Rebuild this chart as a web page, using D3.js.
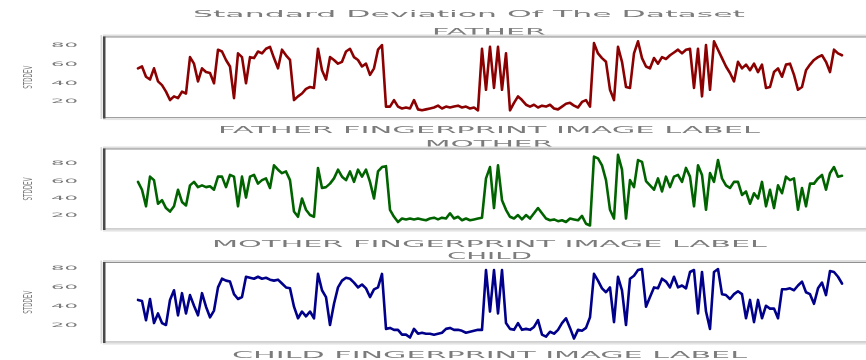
<!DOCTYPE html>
<html><head><meta charset="utf-8">
<script src="https://cdn.jsdelivr.net/npm/d3@7"></script>
<style>body{margin:0;background:#fff}svg{display:block}</style>
</head><body><svg id="c" width="866" height="360"></svg>
<script>
// ---- data ----
const chartTitle = "Standard Deviation Of The Dataset";
const panelNames = ["FATHER", "MOTHER", "CHILD"];
const xAxisLabels = ["FATHER FINGERPRINT IMAGE LABEL", "MOTHER FINGERPRINT IMAGE LABEL", "CHILD FINGERPRINT IMAGE LABEL"];
const yAxisLabel = "STDDEV";
const yTickValues = [20, 40, 60, 80];

const fatherValues = [
55,57,46,43,55,41,37,30,21,25,
23,30,28,67,60,41,55,51,50,39,
75,73,64,57,23,71,67,39,67,66,
73,71,76,78,66,55,75,69,64,21,
25,28,33,35,34,76,53,43,67,64,
60,62,73,76,67,64,57,60,48,55,
75,80,14,14,21,14,12,13,12,21,
11,10,11,12,13,15,12,14,13,14,
15,13,14,12,13,10,76,32,78,34,
78,32,71,10,18,25,21,16,14,16,
13,15,14,16,12,11,14,17,18,15,
13,19,21,14,82,71,66,62,32,21,
78,62,35,34,71,84,66,57,55,66,
60,67,65,69,72,75,71,75,76,34,
76,25,80,32,84,75,66,57,50,41,
62,55,59,53,60,51,59,34,35,51,
55,46,59,60,48,32,35,53,59,64,
67,69,62,51,75,71,69];

const motherValues = [
58,49,30,64,60,33,37,28,24,30,
49,35,31,54,58,52,54,52,53,49,
64,64,52,66,64,30,64,40,64,66,
56,60,62,51,77,72,68,70,60,24,
18,39,26,20,18,74,51,52,56,62,
72,64,60,70,58,72,64,72,58,39,
70,75,76,26,18,12,16,15,16,15,
16,15,14,16,17,15,17,16,22,16,
18,14,16,14,15,16,17,62,75,28,
77,37,26,18,16,20,15,20,16,22,
28,22,16,14,15,13,14,12,16,15,
14,19,10,8,87,85,77,60,26,16,
89,72,16,60,52,83,81,59,54,49,
62,47,64,52,64,66,58,74,64,30,
77,66,26,68,58,83,62,54,51,58,
58,43,47,33,45,39,58,30,49,28,
54,45,64,60,62,26,51,30,56,56,
62,66,49,68,75,64,65];

const childValues = [
46,45,25,47,22,32,22,20,46,56,
30,53,32,51,40,30,53,39,28,35,
59,68,66,65,52,47,49,70,69,68,
70,68,69,67,66,67,63,59,58,39,
27,34,29,34,27,73,56,49,20,42,
59,66,69,68,64,59,62,58,49,57,
59,73,16,17,15,15,10,10,7,16,
11,12,11,11,10,11,12,16,17,15,
15,14,12,13,14,15,15,77,34,77,
32,77,22,16,15,22,15,16,15,18,
25,10,8,13,11,15,22,27,17,6,
15,14,17,28,73,66,58,54,59,23,
70,56,20,68,71,77,78,39,49,59,
58,68,65,59,70,59,61,58,75,77,
32,75,34,16,75,78,52,51,47,52,
55,52,27,46,23,46,27,40,37,37,
27,57,57,58,56,61,65,54,52,42,
58,64,51,76,75,70,63];

// ---- layout ----
const W = 866, H = 360;
const plotLeft = 103, plotRight = 880, dataLeft = 138, dataRight = 842;
const panels = [
  {values: fatherValues, color: "#8b0000", top: 37, bottom: 117.5, domain: [2.3, 88.6],
   titleX: 432, titleW: 114, titleY: 35, labX: 218, labW: 542, labY: 133},
  {values: motherValues, color: "#006400", top: 149, bottom: 229, domain: [4, 95.7],
   titleX: 425, titleW: 128, titleY: 147, labX: 212, labW: 555, labY: 247},
  {values: childValues, color: "#00008b", top: 262.5, bottom: 342, domain: [2.4, 84.8],
   titleX: 447, titleW: 85, titleY: 259, labX: 232, labW: 515, labY: 358}
];
const textColor = "#7c7c7c";
const font = "DejaVu Sans, sans-serif";

const svg = d3.select("#c");
svg.append("rect").attr("width", W).attr("height", H).attr("fill", "#fff");
const defs = svg.append("defs");
defs.append("filter").attr("id", "soft").attr("x", "-5%").attr("y", "-5%").attr("width", "110%").attr("height", "110%")
  .append("feGaussianBlur").attr("stdDeviation", 0.5);
defs.append("filter").attr("id", "softT")
  .append("feGaussianBlur").attr("stdDeviation", 0.4);

function stretchedText(g, str, x, y, len, size) {
  return g.append("text").attr("x", x).attr("y", y)
    .attr("textLength", len).attr("lengthAdjust", "spacingAndGlyphs")
    .attr("font-family", font).attr("font-size", size).attr("fill", textColor)
    .text(str);
}

const textG = svg.append("g").attr("filter", "url(#softT)");
stretchedText(textG, chartTitle, 193, 17, 552, 9.5);

panels.forEach((p, k) => {
  const x = d3.scaleLinear().domain([0, p.values.length - 1]).range([dataLeft, dataRight]);
  const y = d3.scaleLinear().domain(p.domain).range([p.bottom, p.top]);
  const g = svg.append("g");

  // frame
  g.append("rect").attr("x", plotLeft).attr("y", p.top - 2.5).attr("width", plotRight - plotLeft).attr("height", 2.5).attr("fill", "#dedede");
  g.append("line").attr("x1", plotLeft).attr("x2", plotRight).attr("y1", p.top).attr("y2", p.top).attr("stroke", "#909090").attr("stroke-width", 1.2);
  g.append("line").attr("x1", plotLeft).attr("x2", plotRight).attr("y1", p.bottom).attr("y2", p.bottom).attr("stroke", "#a0a0a0").attr("stroke-width", 1.2);
  g.append("rect").attr("x", plotLeft).attr("y", p.bottom + 0.6).attr("width", plotRight - plotLeft).attr("height", 2).attr("fill", "#e4e4e4");
  g.append("line").attr("x1", plotLeft - 1.8).attr("x2", plotLeft - 1.8).attr("y1", p.top - 2).attr("y2", p.bottom + 1.5).attr("stroke", "#cfcfcf").attr("stroke-width", 1.2);
  g.append("line").attr("x1", plotLeft + 1.2).attr("x2", plotLeft + 1.2).attr("y1", p.top - 0.5).attr("y2", p.bottom + 1).attr("stroke", "#4a4a4a").attr("stroke-width", 2.6);

  // series line
  const line = d3.line().x((d, i) => x(i)).y(d => y(d)).curve(d3.curveLinear);
  g.append("path").datum(p.values).attr("d", line)
    .attr("fill", "none").attr("stroke", p.color).attr("stroke-width", 2.6)
    .attr("stroke-linejoin", "round").attr("stroke-linecap", "round")
    .attr("filter", "url(#soft)");

  // y axis (labels only)
  const ax = svg.append("g").attr("transform", `translate(${plotLeft},0)`).attr("filter", "url(#softT)")
    .call(d3.axisLeft(y).tickValues(yTickValues).tickSize(0).tickPadding(25).tickFormat(d3.format("d")));
  ax.select(".domain").remove();
  ax.selectAll("text").attr("font-family", font).attr("font-size", 6).attr("fill", textColor)
    .attr("textLength", 27).attr("lengthAdjust", "spacingAndGlyphs");

  // y label
  const cy = (p.top + p.bottom) / 2;
  const yl = textG.append("g").attr("transform", `translate(32,${cy}) rotate(-90)`);
  stretchedText(yl, yAxisLabel, -11.5, 0, 23, 13);

  // panel title and x label
  stretchedText(textG, panelNames[k], p.titleX, p.titleY, p.titleW, 8.5);
  stretchedText(textG, xAxisLabels[k], p.labX, p.labY, p.labW, 9.5);
});
</script></body></html>
